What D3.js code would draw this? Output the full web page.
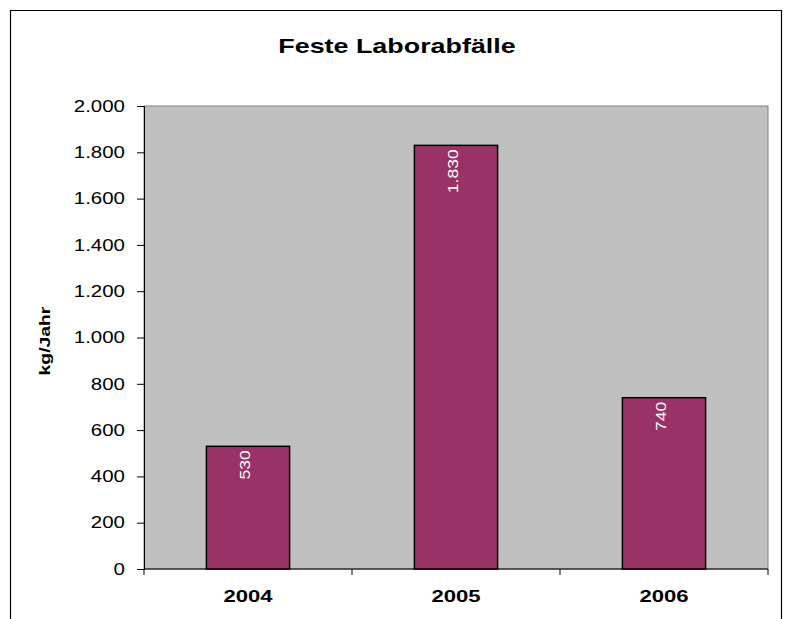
<!DOCTYPE html>
<html>
<head>
<meta charset="utf-8">
<script src="https://cdn.jsdelivr.net/npm/d3@7"></script>
<style>
	body{ margin:0; background:#fff; }
	text{ font-family: "Liberation Sans", Arial, sans-serif; }
</style>
</head>
<body>
<svg id="chart"></svg>
<script>
const years = ["2004", "2005", "2006"];
const values = [530, 1830, 740];
const yTicks = [0, 200, 400, 600, 800, 1000, 1200, 1400, 1600, 1800, 2000];

const width = 792, height = 619;
const plot = {left: 144, right: 768, top: 106, bottom: 569};

let svg = d3.select("#chart")
	.attr("width", width)
	.attr("height", height);

// outer frame (bottom cut off in the original)
svg.append("path")
	.attr("d", "M10.5," + height + "V10.5H781.5V" + height)
	.attr("fill", "none")
	.attr("stroke", "black")
	.attr("stroke-width", 1.2);

let fmt = d3.formatLocale({decimal: ",", thousands: ".", grouping: [3], currency: ["", ""]}).format(",d");

let x = d3.scaleBand()
	.domain(years)
	.range([plot.left, plot.right])
	.paddingInner(0.6)
	.paddingOuter(0.3);

let y = d3.scaleLinear()
	.domain([0, 2000])
	.range([plot.bottom, plot.top]);

svg.append("rect")
	.attr("x", plot.left)
	.attr("y", plot.top)
	.attr("width", plot.right - plot.left)
	.attr("height", plot.bottom - plot.top)
	.attr("fill", "#c0c0c0")
	.attr("stroke", "#808080")
	.attr("stroke-width", 1);

// the old excel font is wider than Liberation Sans, stretch text along its own direction
function widen(sel, s){
	sel.each(function(){
		let t = d3.select(this);
		let tx = +t.attr("x") || 0;
		t.attr("x", 0).attr("transform", "translate(" + tx + ",0) scale(" + s + ",1)");
	});
}

// y axis
let yAxis = svg.append("g")
	.attr("transform", "translate(" + plot.left + ",0)")
	.call(d3.axisLeft(y).tickValues(yTicks).tickSize(7).tickPadding(12).tickFormat(fmt));
yAxis.select(".domain").attr("stroke", "black");
yAxis.selectAll("text").attr("font-size", 16.5).attr("fill", "black")
	.style("font-family", "'Liberation Sans', Arial, sans-serif")
	.call(widen, 1.24);

// x axis with ticks between categories
let xEdges = d3.scaleLinear().domain([0, years.length]).range([plot.left, plot.right]);
let xAxis = svg.append("g")
	.attr("transform", "translate(0," + plot.bottom + ")");
xAxis.append("line")
	.attr("x1", plot.left).attr("x2", plot.right)
	.attr("stroke", "black");
xAxis.selectAll(".tk")
	.data(d3.range(years.length + 1))
	.join("line")
	.attr("class", "tk")
	.attr("x1", d => xEdges(d)).attr("x2", d => xEdges(d))
	.attr("y1", 0).attr("y2", 6)
	.attr("stroke", "black");
xAxis.selectAll(".lbl")
	.data(years)
	.join("text")
	.attr("class", "lbl")
	.attr("transform", d => "translate(" + (x(d) + x.bandwidth() / 2) + ",33) scale(1.3,1)")
	.attr("text-anchor", "middle")
	.attr("font-size", 17)
	.attr("font-weight", "bold")
	.text(d => d);

// bars
svg.selectAll(".bar")
	.data(years)
	.join("rect")
	.attr("class", "bar")
	.attr("x", d => x(d))
	.attr("y", (d, i) => y(values[i]))
	.attr("width", x.bandwidth())
	.attr("height", (d, i) => y(0) - y(values[i]))
	.attr("fill", "#993366")
	.attr("stroke", "black")
	.attr("stroke-width", 1.5);

// value labels
svg.selectAll(".val")
	.data(years)
	.join("text")
	.attr("class", "val")
	.attr("transform", (d, i) => "translate(" + (x(d) + x.bandwidth() / 2 + 2) + "," + (y(values[i]) + 4) + ") rotate(-90) scale(1.13,1)")
	.attr("text-anchor", "end")
	.attr("font-size", 15.5)
	.attr("fill", "white")
	.text((d, i) => fmt(values[i]));

// titles
svg.append("text")
	.attr("transform", "translate(397,53) scale(1.28,1)")
	.attr("text-anchor", "middle")
	.attr("font-size", 21)
	.attr("font-weight", "bold")
	.text("Feste Laborabfälle");

svg.append("text")
	.attr("transform", "translate(50,341) rotate(-90) scale(1.29,1)")
	.attr("text-anchor", "middle")
	.attr("font-size", 15)
	.attr("font-weight", "bold")
	.text("kg/Jahr");
</script>
</body>
</html>
